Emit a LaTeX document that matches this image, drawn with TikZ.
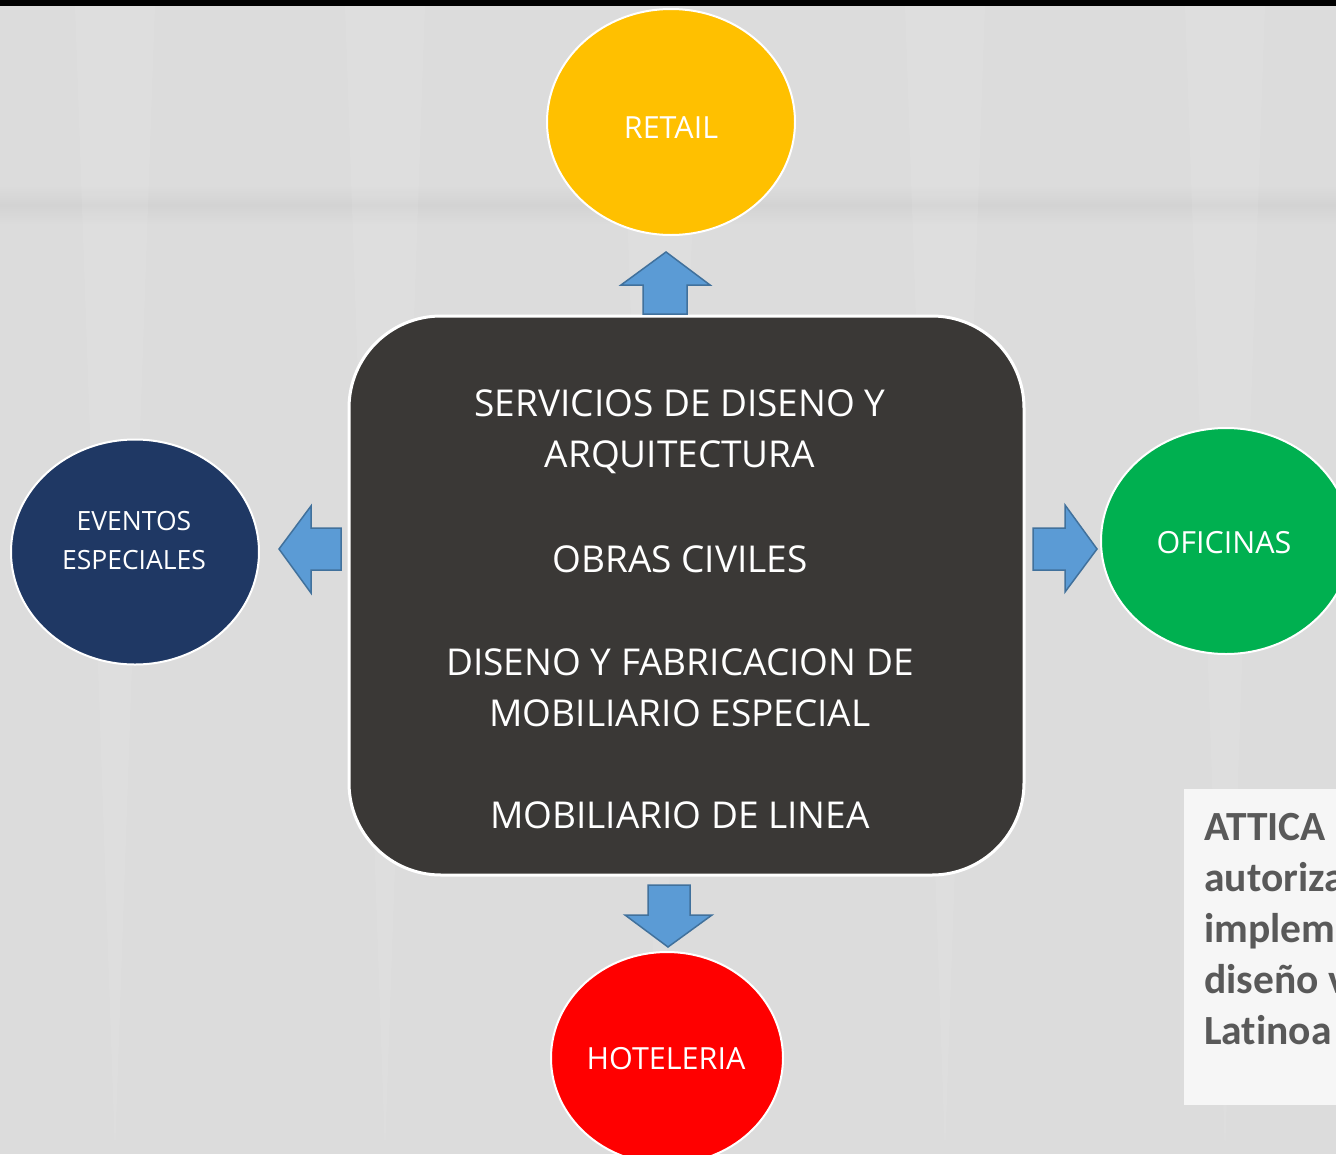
\documentclass[tikz,border=0pt]{standalone}
\usepackage{fontspec}
\setmainfont{Open Sans}
\newfontfamily\calib[Ligatures={NoCommon,NoRare}]{Carlito}
\usetikzlibrary{shapes.geometric}
\definecolor{bgc}{HTML}{DCDCDC}
\definecolor{bandc}{HTML}{D3D3D3}
\definecolor{retailc}{HTML}{FFC000}
\definecolor{eventc}{HTML}{1F3864}
\definecolor{oficc}{HTML}{00B050}
\definecolor{hotelc}{HTML}{FF0000}
\definecolor{corec}{HTML}{3A3836}
\definecolor{arrfill}{HTML}{5B9BD5}
\definecolor{arrline}{HTML}{41719C}
\definecolor{notec}{HTML}{F6F6F6}
\definecolor{notetext}{HTML}{595959}
\tikzset{
  oval/.style={ellipse, draw=white, line width=2pt, text=white, inner sep=0pt, align=center},
  blockarrow/.style={fill=arrfill, draw=arrline, line width=1.5pt, line join=miter},
  coretext/.style={text=white, font=\fontsize{37}{51}\selectfont, align=center},
  notetxt/.style={text=notetext, font=\calib\bfseries\fontsize{41.5}{51}\selectfont, anchor=base west, inner sep=0pt}
}
\begin{document}
\begin{tikzpicture}[x=1pt,y=-1pt]
\useasboundingbox (0,0) rectangle (1336,1154);
\fill[bgc] (0,0) rectangle (1336,1154);
\shade[top color=bgc, bottom color=bandc] (0,185) rectangle (1336,205);
\shade[top color=bandc, bottom color=bgc] (0,205) rectangle (1336,225);
\foreach \xx in {115,385,660,945,1225}{
  \fill[white, opacity=0.08] (\xx-40,6) -- (\xx,1154) -- (\xx+40,6) -- cycle;
}
\fill[black] (0,0) rectangle (1336,6);

% central block
\node[draw=white, line width=3pt, fill=corec, rounded corners=92pt,
      minimum width=675pt, minimum height=559pt, inner sep=0pt] (core) at (686.5,595.5) {};
\node[coretext] (t1) at (680,432) {SERVICIOS DE DISENO Y\\ARQUITECTURA};
\node[coretext] (t2) at (680,559) {OBRAS CIVILES};
\node[coretext] (t3) at (680,688) {DISENO Y FABRICACION DE\\MOBILIARIO ESPECIAL};
\node[coretext] (t4) at (680,815) {MOBILIARIO DE LINEA};

% satellites
\node[oval, fill=retailc, minimum width=248pt, minimum height=226pt] (retail) at (671,122) {};
\node[text=white, font=\fontsize{30.5}{39}\selectfont] (retailt) at (671,128) {RETAIL};
\node[oval, fill=eventc, minimum width=248pt, minimum height=225pt] (eventos) at (135,552) {};
\node[text=white, align=center, font=\fontsize{26.5}{39}\selectfont] (eventost) at (134,541) {EVENTOS\\ESPECIALES};
\node[oval, fill=oficc, minimum width=250pt, minimum height=226pt] (oficinas) at (1226,541) {};
\node[text=white, font=\fontsize{30.5}{39}\selectfont] (oficinast) at (1224,543) {OFICINAS};
\node[oval, fill=hotelc, minimum width=232pt, minimum height=212pt] (hotel) at (667,1058) {};
\node[text=white, font=\fontsize{30.5}{39}\selectfont] (hotelt) at (666,1059) {HOTELERIA};

% block arrows
\coordinate (up) at (666,252);
\coordinate (lf) at (279,549);
\coordinate (rt) at (1097,549);
\coordinate (dn) at (668,947);
\draw[blockarrow] (up) -- (710,285) -- (687,285) -- (687,314) -- (643,314) -- (643,285) -- (621,285) -- cycle;
\draw[blockarrow] (lf) -- (311,506) -- (311,528) -- (341,528) -- (341,570) -- (311,570) -- (311,593) -- cycle;
\draw[blockarrow] (rt) -- (1065,505) -- (1065,528) -- (1033,528) -- (1033,570) -- (1065,570) -- (1065,592) -- cycle;
\draw[blockarrow] (dn) -- (712,915) -- (690,915) -- (690,885) -- (648,885) -- (648,915) -- (625,915) -- cycle;

% side note
\node[fill=notec, anchor=north west, minimum width=170pt, minimum height=316pt, inner sep=0pt] (note) at (1184,789) {};
\node[notetxt] (n1) at (1204,840) {ATTICA};
\node[notetxt] (n2) at (1204,891) {autoriza};
\node[notetxt] (n3) at (1204,942) {implem};
\node[notetxt] (n4) at (1204,993) {diseño v};
\node[notetxt] (n5) at (1204,1044) {Latinoa};
\end{tikzpicture}
\end{document}
